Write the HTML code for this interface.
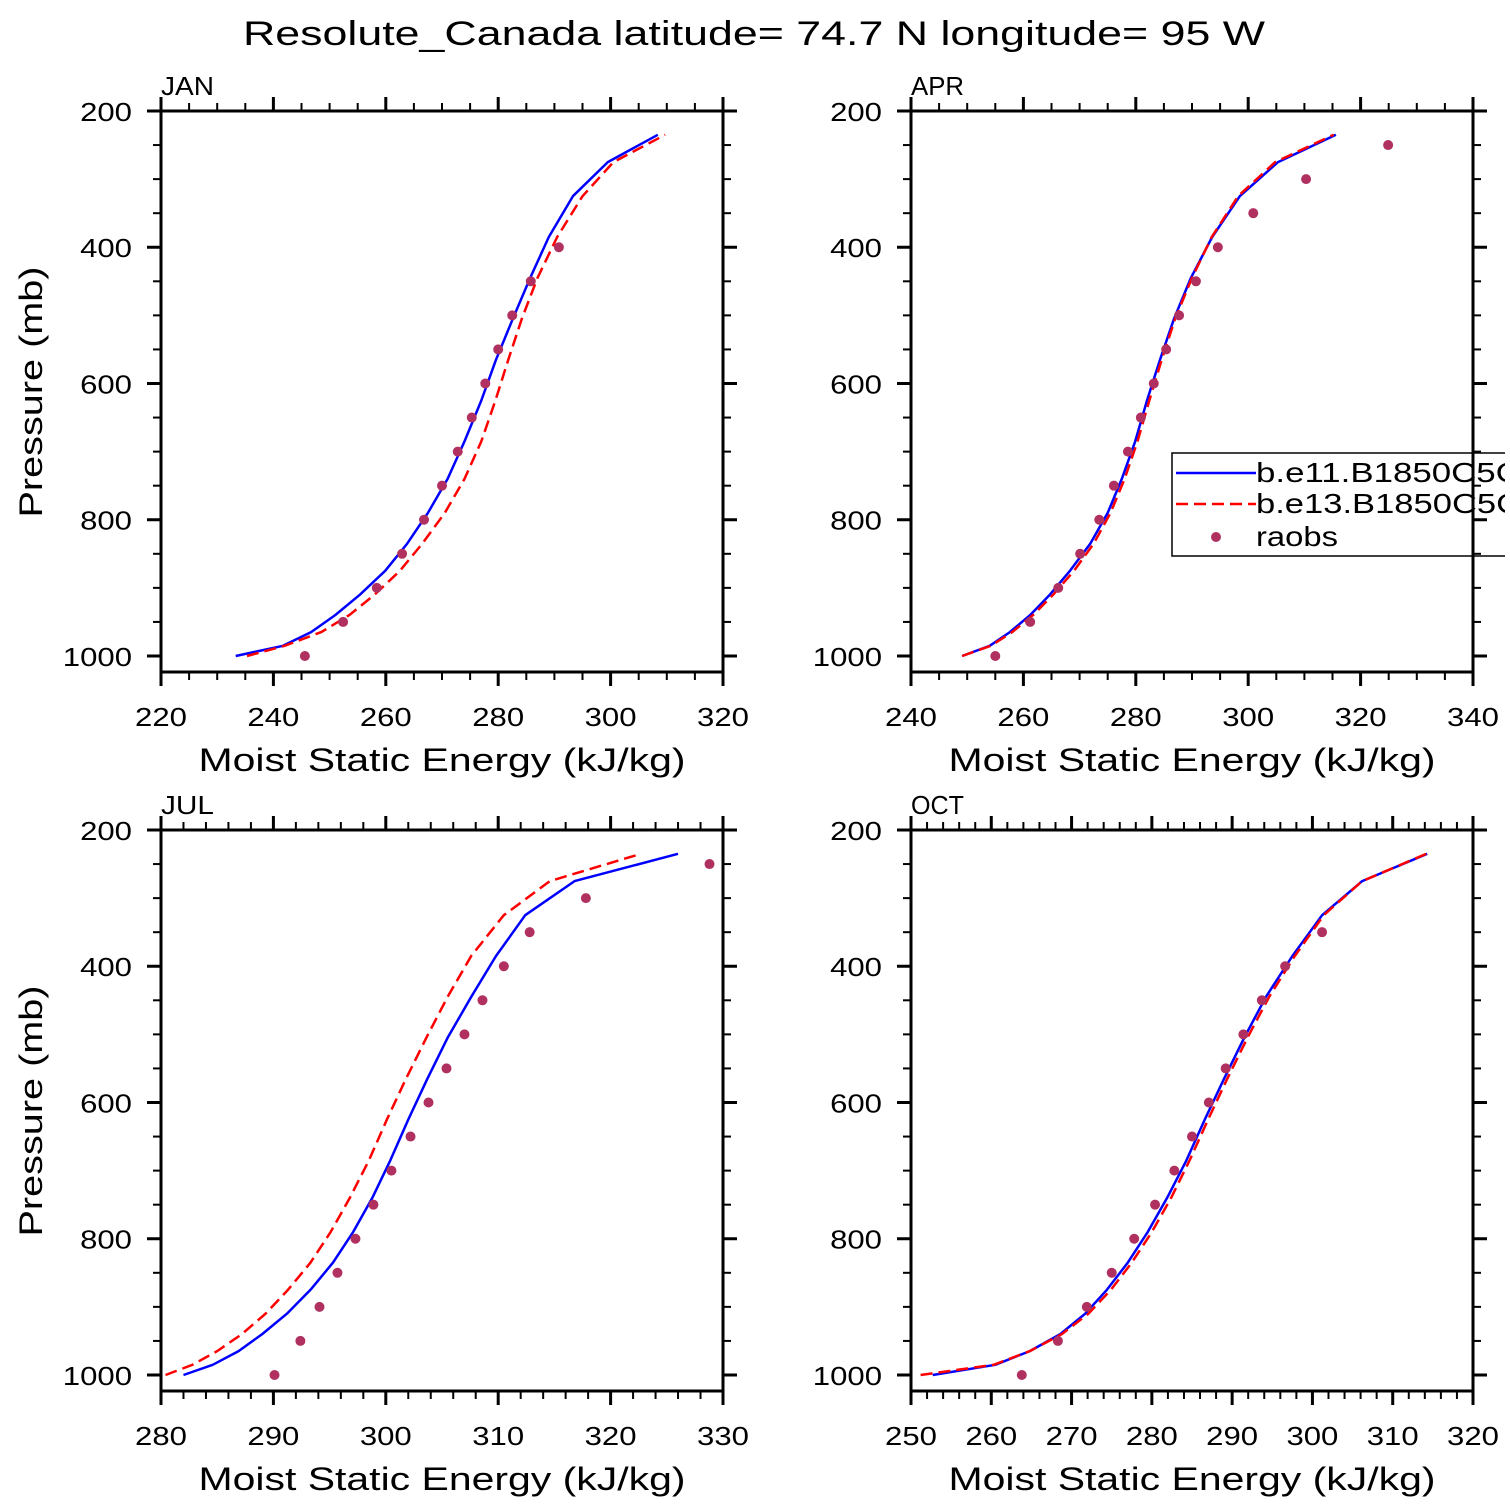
<!DOCTYPE html>
<html><head><meta charset="utf-8"><style>
html,body{margin:0;padding:0;background:#fff;}
svg{display:block;font-family:"Liberation Sans",sans-serif;}
</style></head><body>
<svg id="chart" width="1510" height="1510" viewBox="0 0 1510 1510" xmlns="http://www.w3.org/2000/svg">
<text x="243" y="45" font-size="34" textLength="1022" lengthAdjust="spacingAndGlyphs">Resolute_Canada  latitude= 74.7 N longitude= 95 W</text>
<g id="panels"></g>
<defs><clipPath id="pageclip"><rect x="0" y="0" width="1505" height="1510"/></clipPath></defs>
<g clip-path="url(#pageclip)">
<rect x="1172" y="453" width="400" height="103" fill="none" stroke="#000" stroke-width="1.5"/>
<line x1="1176" y1="473" x2="1256" y2="473" stroke="#0000ff" stroke-width="2.5"/>
<text x="1256" y="482" font-size="28" textLength="290" lengthAdjust="spacingAndGlyphs">b.e11.B1850C5CN</text>
<line x1="1176" y1="504" x2="1256" y2="504" stroke="#ff0000" stroke-width="2.5" stroke-dasharray="12,6"/>
<text x="1256" y="513" font-size="28" textLength="290" lengthAdjust="spacingAndGlyphs">b.e13.B1850C5CN</text>
<circle cx="1216" cy="537" r="5" fill="#b03060"/>
<text x="1256" y="546" font-size="28" textLength="82" lengthAdjust="spacingAndGlyphs">raobs</text>
</g>
</svg>
<script>
const modelLevels = [1000,985,965,940,910,875,835,790,740,685,625,565,505,445,385,325,275,235];
const obsLevels = [1000,950,900,850,800,750,700,650,600,550,500,450,400,350,300,250];
const yTicks = [200,400,600,800,1000];
const months = ["JAN","APR","JUL","OCT"];
const janE11 = [233.3,241.7,246.7,251,255.4,259.9,263.8,267.5,271,274,277,279.6,282.6,285.7,289,293.3,299.5,308.4];
const janE13 = [235.3,242,248.5,253.5,258,262.5,266.5,270.5,274,277,279.5,281.8,284.2,287,290.5,295,300.5,309.7];
const janObs = [245.6,252.4,258.4,262.9,266.8,270,272.8,275.3,277.7,280,282.5,285.8,290.8,null,null,null];
const aprE11 = [249.1,254,257.6,261.2,264.7,268.3,271.9,275,277.5,279.9,282,284.3,286.8,289.8,293.6,298.5,305.3,315.6];
const aprE13 = [249.1,254.2,258,261.7,265.3,269,272.5,275.5,278,280.3,282.4,284.6,287,290,293.5,298.2,304.8,315.2];
const aprObs = [255,261.2,266.2,270.1,273.5,276.1,278.6,280.9,283.2,285.4,287.7,290.7,294.6,300.9,310.3,324.9];
const julE11 = [282,284.6,286.9,289,291.2,293.3,295.3,297.1,298.8,300.4,302,303.7,305.5,307.6,309.8,312.4,316.8,326];
const julE13 = [280.4,282.8,285,287.2,289.3,291.3,293.3,295.1,296.8,298.5,300.1,301.8,303.6,305.5,307.6,310.5,314.6,322.7];
const julObs = [290.1,292.4,294.1,295.7,297.3,298.9,300.5,302.2,303.8,305.4,307,308.6,310.5,312.8,317.8,328.8];
const octE11 = [252.7,260.5,264.8,268.6,271.7,274.4,277,279.5,281.9,284.3,286.6,289,291.5,294.2,297.5,301.2,306.2,314.3];
const octE13 = [251.2,260.3,264.8,268.8,272.1,274.9,277.5,280,282.4,284.7,287,289.4,291.9,294.6,297.8,301.4,306.2,314.2];
const octObs = [263.8,268.3,271.9,275,277.8,280.4,282.8,285,287.1,289.2,291.4,293.7,296.6,301.2,null,null];
const xRanges = [[220,320],[240,340],[280,330],[250,320]];
const xMajor = [20,20,10,10];
const xMinor = [5,5,2,2];

const series = [[janE11,janE13,janObs],[aprE11,aprE13,aprObs],[julE11,julE13,julObs],[octE11,octE13,octObs]];
const origins = [[161,111],[911,111],[161,830],[911,830]];
const W = 562, H = 561, PMIN = 200, PMAX = 1023.5;
const NS = "http://www.w3.org/2000/svg";
const root = document.getElementById('panels');
function mk(tag, attrs, parent){const e=document.createElementNS(NS,tag);for(const k in attrs)e.setAttribute(k,attrs[k]);parent.appendChild(e);return e;}

months.forEach((m,i)=>{
  const [x0,y0] = origins[i];
  const [xmin,xmax] = xRanges[i];
  const xs = v => x0 + (v-xmin)/(xmax-xmin)*W;
  const ys = p => y0 + (p-PMIN)/(PMAX-PMIN)*H;
  const g = mk('g',{},root);
  
  
  const lab = mk('text',{x:x0,y:y0-16,'font-size':26,textLength:53,lengthAdjust:'spacingAndGlyphs'},g);
  
  
  lab.textContent = m;
  const tg = mk('g',{stroke:'#000','stroke-width':2},g);
  
  
  for(let v=xmin; v<=xmax+1e-9; v+=xMinor[i]){
    const isMaj = Math.abs(((v-xmin)/xMajor[i])-Math.round((v-xmin)/xMajor[i]))<1e-6;
    const L = isMaj?14:8, x=xs(v);
    mk('line',{x1:x,y1:y0,x2:x,y2:y0-L,'stroke-width':isMaj?3:2},tg);
    mk('line',{x1:x,y1:y0+H,x2:x,y2:y0+H+L,'stroke-width':isMaj?3:2},tg);
    if(isMaj){
      const s = String(Math.round(v));
      const t = mk('text',{x:x,y:y0+H+54,'font-size':26,'text-anchor':'middle',stroke:'none',textLength:s.length*17.3,lengthAdjust:'spacingAndGlyphs'},g);
      
      
      t.textContent = s;
    }
  }
  for(let p=200; p<=1000; p+=50){
    const isMaj = p%200===0, L=isMaj?14:8, y=ys(p);
    mk('line',{x1:x0,y1:y,x2:x0-L,y2:y,'stroke-width':isMaj?3:2},tg);
    mk('line',{x1:x0+W,y1:y,x2:x0+W+L,y2:y,'stroke-width':isMaj?3:2},tg);
  }
  yTicks.forEach(p=>{
    const s = String(p);
    const t = mk('text',{x:x0-29,y:ys(p)+10,'font-size':26,'text-anchor':'end',textLength:s.length*17.3,lengthAdjust:'spacingAndGlyphs'},g);
    
    
    t.textContent = s;
  });
  const xt = mk('text',{x:x0+W/2,y:y0+H+99,'font-size':32,'text-anchor':'middle',textLength:487,lengthAdjust:'spacingAndGlyphs'},g);
  
  
  xt.textContent = 'Moist Static Energy (kJ/kg)';
  if(i%2===0){
    const cy = y0+281;
    const yt = mk('text',{x:0,y:0,'font-size':32,'text-anchor':'middle',textLength:251,lengthAdjust:'spacingAndGlyphs',transform:`translate(42,${cy}) rotate(-90)`},g);
    
    
    yt.textContent = 'Pressure (mb)';
  }
  const [e11,e13,obs] = series[i];
  const pts = arr => arr.map((v,k)=>xs(v).toFixed(1)+','+ys(modelLevels[k]).toFixed(1)).join(' ');
  const l1 = mk('polyline',{points:pts(e11),fill:'none',stroke:'#0000ff','stroke-width':2.5,'stroke-linejoin':'round'},g);
  
  
  const l2 = mk('polyline',{points:pts(e13),fill:'none',stroke:'#ff0000','stroke-width':2.5,'stroke-dasharray':'12,6'},g);
  
  
  obs.forEach((v,k)=>{
    if(v===null) return;
    const c = mk('circle',{cx:xs(v),cy:ys(obsLevels[k]),r:5,fill:'#b03060'},g);
    
    
  });
  const fr = mk('rect',{x:x0,y:y0,width:W,height:H,fill:'none',stroke:'#000','stroke-width':3},g);
  
  
});
</script>
</body></html>
